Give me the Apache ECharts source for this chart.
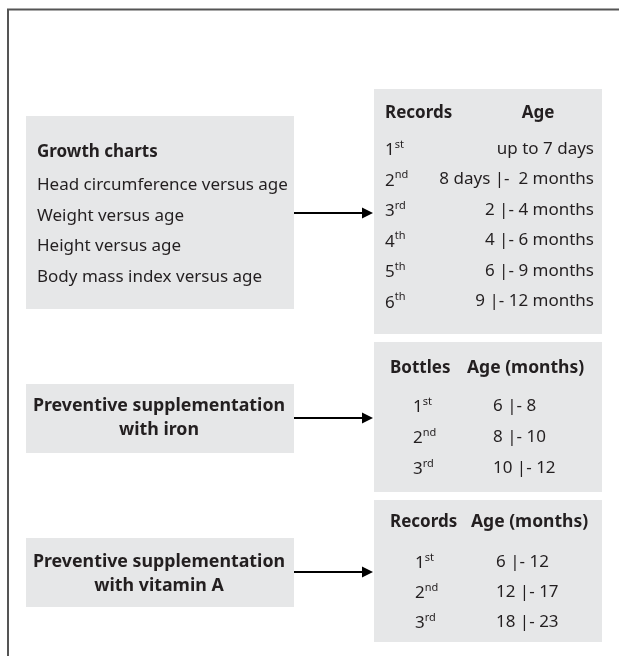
<!DOCTYPE html>
<html>
<head>
<meta charset="utf-8">
<script src="https://cdn.jsdelivr.net/npm/echarts@6/dist/echarts.min.js"></script>
<style>
html,body{margin:0;padding:0;background:#fff;}
#main{width:619px;height:656px;}
</style>
</head>
<body>
<div id="main"></div>
<script>
// ---- content ----
const growthTitle = 'Growth charts';
const growthItems = ['Head circumference versus age', 'Weight versus age', 'Height versus age', 'Body mass index versus age'];
const recordHeaders = ['Records', 'Age'];
const recordOrdinals = ['1st', '2nd', '3rd', '4th', '5th', '6th'];
const recordAges = ['up to 7 days', '8 days |-  2 months', '2 |- 4 months', '4 |- 6 months', '6 |- 9 months', '9 |- 12 months'];
const ironTitle = ['Preventive supplementation', 'with iron'];
const ironHeaders = ['Bottles', 'Age (months)'];
const ironOrdinals = ['1st', '2nd', '3rd'];
const ironAges = ['6 |- 8', '8 |- 10', '10 |- 12'];
const vitATitle = ['Preventive supplementation', 'with vitamin A'];
const vitAHeaders = ['Records', 'Age (months)'];
const vitAOrdinals = ['1st', '2nd', '3rd'];
const vitAAges = ['6 |- 12', '12 |- 17', '18 |- 23'];

// ---- style ----
const FONT = '"Noto Sans", sans-serif';
const TXT = '#231f20';
const BOX = '#e6e7e8';
const FS = 17;

const chart = echarts.init(document.getElementById('main'), null, {renderer: 'canvas'});
const els = [];

function rect(x, y, w, h) {
  els.push({type: 'rect', shape: {x, y, width: w, height: h}, style: {fill: BOX}, silent: true});
}
function text(str, x, y, opts) {
  opts = opts || {};
  els.push({type: 'text', x, y, silent: true, style: {
    text: str, fill: TXT, textAlign: opts.align || 'left', textVerticalAlign: 'middle',
    font: (opts.bold ? 'bold ' : '') + (opts.size || FS) + 'px ' + FONT
  }});
}
function ordinal(str, x, y) {
  const m = str.match(/^(\d+)(\D+)$/);
  els.push({type: 'text', x, y, silent: true, style: {
    text: '{n|' + m[1] + '}{s|' + m[2] + '}', textAlign: 'left', textVerticalAlign: 'middle',
    rich: {
      n: {fontSize: FS, fontFamily: FONT, fill: TXT, lineHeight: 20, verticalAlign: 'bottom'},
      s: {fontSize: 11, fontFamily: FONT, fill: TXT, lineHeight: 16, verticalAlign: 'top'}
    }
  }});
}
function arrow(x1, x2, y) {
  els.push({type: 'line', shape: {x1, y1: y, x2: x2 - 9, y2: y}, style: {stroke: '#000', lineWidth: 2}, silent: true});
  els.push({type: 'polygon', shape: {points: [[x2 - 11, y - 5.5], [x2, y], [x2 - 11, y + 5.5]]}, style: {fill: '#000'}, silent: true});
}

// frame
els.push({type: 'polyline', shape: {points: [[8, 656], [8, 9.5], [619, 9.5]]}, style: {stroke: '#555', lineWidth: 2, fill: null}, silent: true});

// Growth box
rect(26, 116, 268, 193);
text(growthTitle, 37, 152, {bold: true});
growthItems.forEach((s, i) => text(s, 37, 185 + i * 30.7));

// Records box
rect(374, 89, 228, 245);
text(recordHeaders[0], 385, 113, {bold: true});
text(recordHeaders[1], 538, 113, {bold: true, align: 'center'});
recordOrdinals.forEach((s, i) => {
  ordinal(s, 385, 149 + i * 30.5);
  text(recordAges[i], 594, 149 + i * 30.5, {align: 'right'});
});
arrow(294, 373, 213);

// Iron
rect(26, 384, 268, 69);
ironTitle.forEach((s, i) => text(s, 159, 406 + i * 24, {bold: true, align: 'center', size: 17.8}));
rect(374, 342, 228, 150);
text(ironHeaders[0], 390, 368, {bold: true});
text(ironHeaders[1], 467, 368, {bold: true, size: 17.5});
ironOrdinals.forEach((s, i) => {
  ordinal(s, 413, 406 + i * 31);
  text(ironAges[i], 493, 406 + i * 31);
});
arrow(294, 373, 418);

// Vitamin A
rect(26, 538, 268, 69);
vitATitle.forEach((s, i) => text(s, 159, 562 + i * 24, {bold: true, align: 'center', size: 17.8}));
rect(374, 500, 228, 142);
text(vitAHeaders[0], 390, 522, {bold: true});
text(vitAHeaders[1], 471, 522, {bold: true, size: 17.5});
vitAOrdinals.forEach((s, i) => {
  ordinal(s, 415, 562 + i * 30);
  text(vitAAges[i], 496, 562 + i * 30);
});
arrow(294, 373, 572);

chart.setOption({
  backgroundColor: '#fff',
  animation: false,
  graphic: {elements: els}
});
</script>
</body>
</html>
